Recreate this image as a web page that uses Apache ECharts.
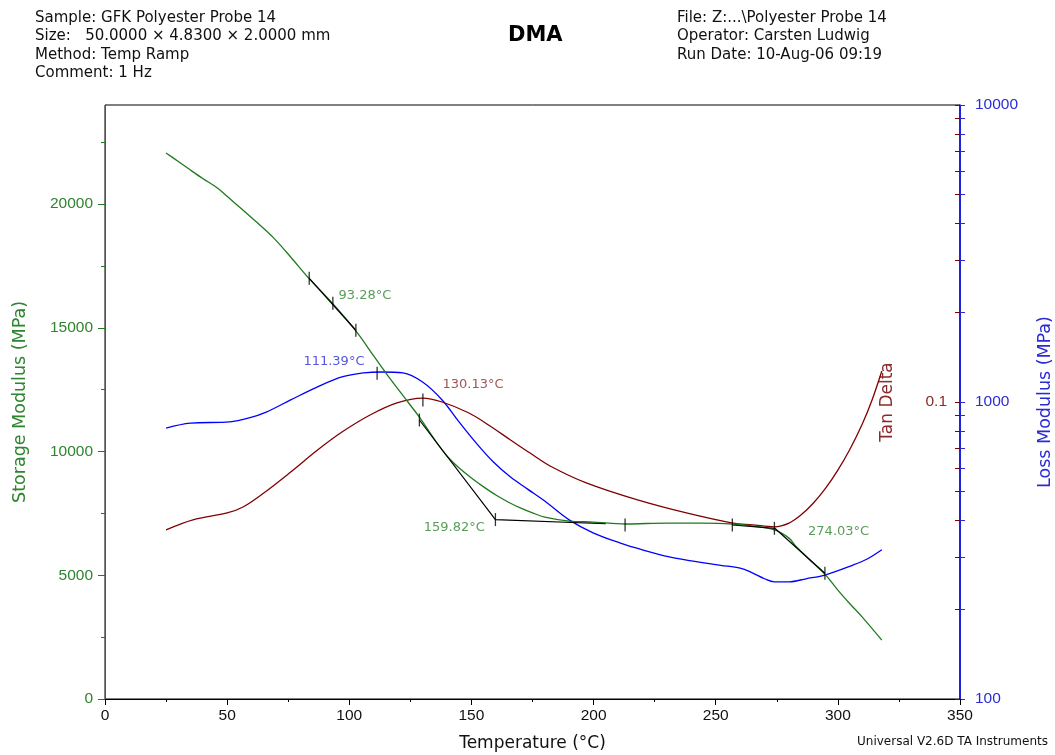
<!DOCTYPE html>
<html>
<head>
<meta charset="utf-8">
<script src="https://cdn.jsdelivr.net/npm/echarts@6/dist/echarts.min.js"></script>
<style>
html,body{margin:0;padding:0;background:#fff;}
#chart{width:1055px;height:755px;}
</style>
</head>
<body>
<div id="chart"></div>
<script>
// ---------- data ----------
const storageTemp = [25, 30, 35, 40, 46, 50, 55, 62, 69, 76, 83, 93, 103, 110, 115, 124, 129, 135, 140, 145, 150, 155, 160, 165, 170, 175, 180, 190, 200, 213, 230, 245, 257, 265, 274, 280, 283, 290, 295, 300, 305, 310, 318];
const storageMPa  = [22060, 21720, 21370, 21030, 20650, 20310, 19880, 19270, 18630, 17860, 17050, 16000, 14830, 13860, 13170, 12000, 11350, 10470, 9820, 9330, 8930, 8570, 8240, 7960, 7720, 7520, 7350, 7190, 7150, 7070, 7110, 7110, 7070, 6990, 6830, 6500, 6150, 5480, 5010, 4400, 3840, 3310, 2380];

const lossTemp = [25, 35, 51, 59, 66, 76, 87, 97, 106, 113, 122, 130, 138, 145, 152, 159, 166, 173, 180, 190, 200, 211, 220, 231, 240, 252, 260, 265, 270, 274, 280, 287, 295, 306, 312, 318];
const lossMPa  = [817, 849, 857, 884, 925, 1016, 1124, 1214, 1253, 1262, 1253, 1167, 1016, 856, 727, 628, 559, 509, 464, 401, 362, 335, 318, 301, 292, 282, 276, 266, 254, 248, 248, 254, 262, 282, 296, 318];

const tanTemp  = [25, 36, 50, 56.5, 65, 76, 87, 97, 108.5, 119.5, 130, 138, 149, 157, 166, 174, 183, 197, 218, 238, 257, 265, 274, 280, 285, 290, 295, 300, 305, 310, 314, 318];
const tanDelta = [0.0371, 0.0401, 0.0423, 0.0443, 0.0494, 0.0581, 0.0689, 0.0792, 0.0904, 0.0993, 0.1031, 0.1, 0.0918, 0.0837, 0.0745, 0.0673, 0.0604, 0.0534, 0.0468, 0.0423, 0.0391, 0.0386, 0.0380, 0.0391, 0.0417, 0.0457, 0.0513, 0.0590, 0.0695, 0.0843, 0.1016, 0.1272];

// onset construction lines (storage modulus coordinates)
const tangentA = [[83.6, 16998], [102.7, 14900]];
const tangentB = [[128.7, 11273], [159.82, 7250], [205, 7080]];
const tangentC = [[256.8, 7030], [274.2, 6897], [294.7, 5079]];

// analysis markers
const storageMarkTemp = [83.6, 93.28, 102.7, 128.7, 159.82, 212.9, 256.8, 274.03, 294.7];
const storageMarkMPa  = [16998, 15988, 14900, 11273, 7250, 7030, 7030, 6897, 5079];
const storageMarkText = ['', '93.28°C', '', '', '159.82°C', '', '', '274.03°C', ''];
const lossPeak = [111.39, 1249];
const lossPeakText = '111.39°C';
const tanPeak = [130.13, 0.1016];
const tanPeakText = '130.13°C';

// tick labels
const tempTicks = [0, 50, 100, 150, 200, 250, 300, 350];
const storageTicks = [0, 5000, 10000, 15000, 20000];
const storageMinorTicks = [2500, 7500, 12500, 17500, 22500];
const lossLabels = [100, 1000, 10000];
const lossTickValues = [100,200,300,400,500,600,700,800,900,1000,2000,3000,4000,5000,6000,7000,8000,9000,10000];
const tanLabels = [0.1];
const tanTickValues = [0.01,0.02,0.03,0.04,0.05,0.06,0.07,0.08,0.09,0.1,0.2,0.3,0.4,0.5,0.6,0.7,0.8,0.9,1];

// ---------- styling ----------
const FONT = 'DejaVu Sans, Liberation Sans, Arial, sans-serif';
const NUMFONT = 'Liberation Sans, Arial, sans-serif';
const GREEN_LINE = '#1f7a1f';
const GREEN_TEXT = '#2f842f';
const BLUE = '#0000ff';
const BLUE_TEXT = '#2b2bd6';
const RED_LINE = '#800000';
const RED_TEXT = '#8a2a2a';
const plain = v => String(v);

const zip = (a, b) => a.map((v, i) => [v, b[i]]);

const storageMarks = storageMarkTemp.map((t, i) => {
  const item = { value: [t, storageMarkMPa[i]] };
  const txt = storageMarkText[i];
  if (txt) {
    let lbl = { show: true, formatter: txt, color: GREEN_TEXT, fontSize: 13, fontFamily: FONT };
    if (txt === '93.28°C') Object.assign(lbl, { position: 'right', distance: 5, offset: [0, -8] });
    if (txt === '159.82°C') Object.assign(lbl, { position: 'left', distance: 10, offset: [0, 8] });
    if (txt === '274.03°C') Object.assign(lbl, { position: 'right', distance: 33, offset: [0, 3] });
    item.label = lbl;
  }
  return item;
});

const chart = echarts.init(document.getElementById('chart'), null, { renderer: 'canvas' });
const option = {
  animation: false,
  backgroundColor: '#fff',
  textStyle: { fontFamily: FONT },
  title: [
    { text: 'DMA', left: 508, top: 25, padding: 0,
      textStyle: { fontSize: 21, fontWeight: 'bold', color: '#000', fontFamily: FONT } },
    { text: 'Sample: GFK Polyester Probe 14\nSize:   50.0000 × 4.8300 × 2.0000 mm\nMethod: Temp Ramp\nComment: 1 Hz',
      left: 35, top: 9, padding: 0,
      textStyle: { fontSize: 15, fontWeight: 'normal', color: '#111', lineHeight: 18.3, fontFamily: FONT } },
    { text: 'File: Z:...\\Polyester Probe 14\nOperator: Carsten Ludwig\nRun Date: 10-Aug-06 09:19',
      left: 677, top: 9, padding: 0,
      textStyle: { fontSize: 15, fontWeight: 'normal', color: '#111', lineHeight: 18.3, fontFamily: FONT } },
    { text: 'Universal V2.6D TA Instruments', left: 857, top: 735, padding: 0,
      textStyle: { fontSize: 12, fontWeight: 'normal', color: '#111', lineHeight: 14, fontFamily: FONT } }
  ],
  grid: { left: 105, right: 95, top: 105, bottom: 56, show: true, borderColor: '#000', borderWidth: 1,
          backgroundColor: 'transparent', outerBoundsMode: 'none' },
  xAxis: [{
    type: 'value', min: 0, max: 350, interval: 50, position: 'bottom',
    axisLine: { show: true, lineStyle: { color: '#000', width: 1 } },
    axisTick: { show: true, length: 6, lineStyle: { color: '#000' } },
    minorTick: { show: true, splitNumber: 2, length: 3, lineStyle: { color: '#000' } },
    splitLine: { show: false }, minorSplitLine: { show: false },
    axisLabel: { color: '#111', fontSize: 15.5, margin: 9, fontFamily: NUMFONT, formatter: plain },
    name: 'Temperature (°C)', nameLocation: 'middle', nameGap: 36, nameMoveOverlap: false,
    nameTextStyle: { color: '#111', fontSize: 17, fontFamily: FONT }
  }],
  yAxis: [
    { // storage modulus
      type: 'value', min: 0, max: 24000, position: 'left',
      axisLine: { show: true, lineStyle: { color: GREEN_LINE, width: 1 } },
      axisTick: { show: true, length: 7, customValues: storageTicks, lineStyle: { color: GREEN_LINE } },
      axisLabel: { customValues: storageTicks, color: GREEN_TEXT, fontSize: 15.5, margin: 12, fontFamily: NUMFONT, formatter: plain },
      splitLine: { show: false },
      name: 'Storage Modulus (MPa)', nameLocation: 'middle', nameGap: 76, nameMoveOverlap: false,
      nameTextStyle: { color: GREEN_TEXT, fontSize: 17.5, fontFamily: FONT }
    },
    { // storage modulus minor ticks
      type: 'value', min: 0, max: 24000, position: 'left',
      axisLine: { show: false },
      axisTick: { show: true, length: 4, customValues: storageMinorTicks, lineStyle: { color: GREEN_LINE } },
      axisLabel: { show: false }, splitLine: { show: false }
    },
    { // loss modulus
      type: 'log', logBase: 10, min: 100, max: 10000, position: 'right',
      axisLine: { show: true, lineStyle: { color: BLUE, width: 1.5 } },
      axisTick: { show: true, length: 5, customValues: lossTickValues, lineStyle: { color: '#2a2ad0' } },
      axisLabel: { customValues: lossLabels, color: BLUE_TEXT, fontSize: 15.5, margin: 15, fontFamily: NUMFONT, formatter: plain },
      splitLine: { show: false }, minorTick: { show: false },
      name: 'Loss Modulus (MPa)', nameLocation: 'middle', nameGap: 76, nameMoveOverlap: false,
      nameTextStyle: { color: BLUE_TEXT, fontSize: 17.5, fontFamily: FONT }
    },
    { // tan delta
      type: 'log', logBase: 10, min: 0.01, max: 1, position: 'right',
      axisLine: { show: false },
      axisTick: { show: true, inside: true, length: 5, customValues: tanTickValues, lineStyle: { color: RED_LINE } },
      axisLabel: { inside: true, customValues: tanLabels, color: RED_TEXT, fontSize: 15.5, margin: 13, fontFamily: NUMFONT, formatter: plain },
      splitLine: { show: false },
      name: 'Tan Delta', nameLocation: 'middle', nameGap: -81, nameMoveOverlap: false,
      nameTextStyle: { color: RED_TEXT, fontSize: 17, fontFamily: FONT }
    }
  ],
  series: [
    { name: 'Loss Modulus', type: 'line', yAxisIndex: 2, data: zip(lossTemp, lossMPa),
      smooth: 0.35, showSymbol: false, lineStyle: { color: BLUE, width: 1.3 }, z: 2 },
    { name: 'Tan Delta', type: 'line', yAxisIndex: 3, data: zip(tanTemp, tanDelta),
      smooth: 0.35, showSymbol: false, lineStyle: { color: RED_LINE, width: 1.3 }, z: 2 },
    { name: 'Storage Modulus', type: 'line', yAxisIndex: 0, data: zip(storageTemp, storageMPa),
      smooth: 0.35, showSymbol: false, lineStyle: { color: GREEN_LINE, width: 1.3 }, z: 3 },
    { type: 'line', yAxisIndex: 0, data: tangentA, showSymbol: false, lineStyle: { color: '#000', width: 1.2 }, z: 4 },
    { type: 'line', yAxisIndex: 0, data: tangentB, showSymbol: false, lineStyle: { color: '#000', width: 1.2 }, z: 4 },
    { type: 'line', yAxisIndex: 0, data: tangentC, showSymbol: false, lineStyle: { color: '#000', width: 1.2 }, z: 4 },
    { type: 'scatter', yAxisIndex: 0, data: storageMarks, symbol: 'rect', symbolSize: [1.3, 13],
      itemStyle: { color: '#000' }, z: 5 },
    { type: 'scatter', yAxisIndex: 2, symbol: 'rect', symbolSize: [1.3, 13], itemStyle: { color: '#000' }, z: 5,
      data: [{ value: lossPeak, label: { show: true, formatter: lossPeakText, position: 'left', distance: 12,
        offset: [0, -12], color: BLUE_TEXT, fontSize: 13, fontFamily: FONT } }] },
    { type: 'scatter', yAxisIndex: 3, symbol: 'rect', symbolSize: [1.3, 13], itemStyle: { color: '#000' }, z: 5,
      data: [{ value: tanPeak, label: { show: true, formatter: tanPeakText, position: 'right', distance: 19,
        offset: [0, -15], color: RED_TEXT, fontSize: 13, fontFamily: FONT } }] }
  ]
};
chart.setOption(option);
</script>
</body>
</html>
